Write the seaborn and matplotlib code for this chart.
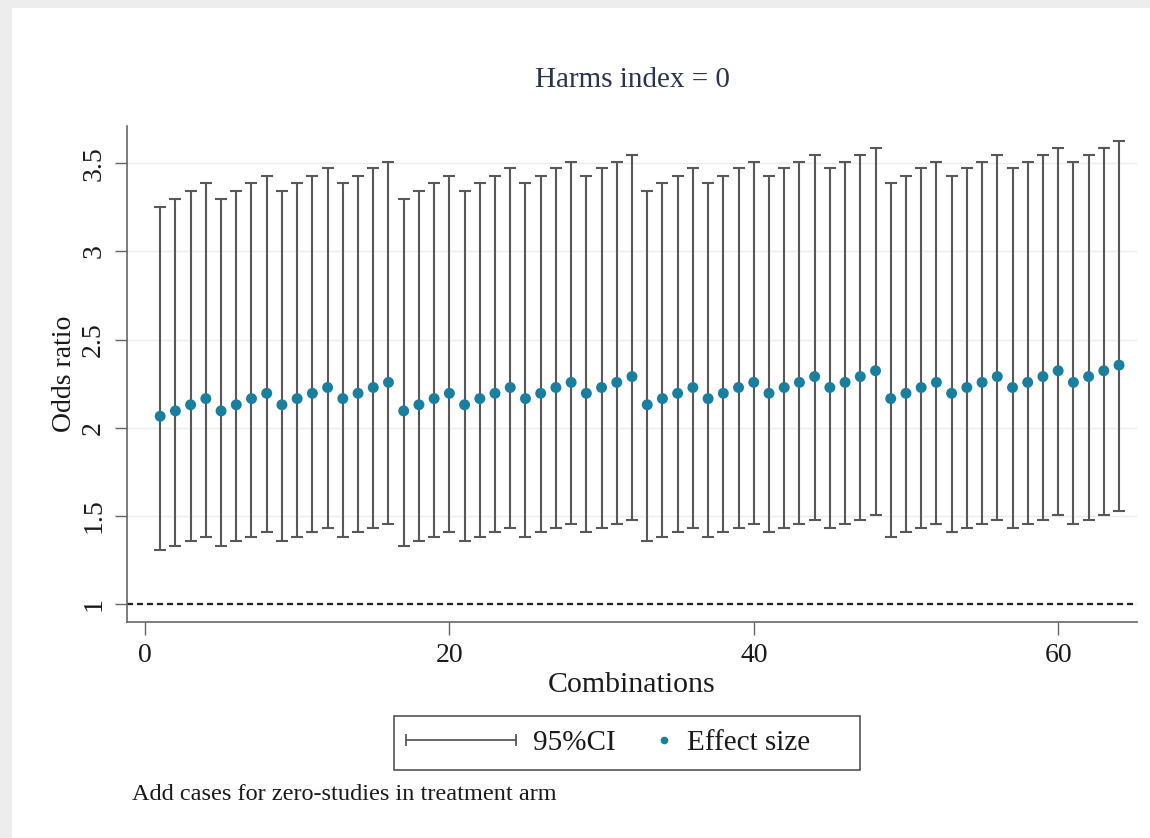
import numpy as np
import pandas as pd
import matplotlib
matplotlib.use("Agg")
import matplotlib.pyplot as plt
import seaborn as sns
from matplotlib.lines import Line2D
from matplotlib.patches import Rectangle
from matplotlib.legend_handler import HandlerLine2D

# ---- data -------------------------------------------------------------
combination = list(range(1, 65))

effect_size = [
    2.065, 2.095, 2.130, 2.165, 2.095, 2.130, 2.165, 2.195,
    2.130, 2.165, 2.195, 2.228, 2.165, 2.195, 2.228, 2.257,
    2.095, 2.130, 2.165, 2.195, 2.130, 2.165, 2.195, 2.228,
    2.165, 2.195, 2.228, 2.257, 2.195, 2.228, 2.257, 2.290,
    2.130, 2.165, 2.195, 2.228, 2.165, 2.195, 2.228, 2.257,
    2.195, 2.228, 2.257, 2.290, 2.228, 2.257, 2.290, 2.323,
    2.165, 2.195, 2.228, 2.257, 2.195, 2.228, 2.257, 2.290,
    2.228, 2.257, 2.290, 2.323, 2.257, 2.290, 2.323, 2.355,
]

ci_lower = [
    1.306, 1.330, 1.358, 1.380, 1.330, 1.358, 1.380, 1.406,
    1.358, 1.380, 1.406, 1.431, 1.380, 1.406, 1.431, 1.456,
    1.330, 1.358, 1.380, 1.406, 1.358, 1.380, 1.406, 1.431,
    1.380, 1.406, 1.431, 1.456, 1.406, 1.431, 1.456, 1.478,
    1.358, 1.380, 1.406, 1.431, 1.380, 1.406, 1.431, 1.456,
    1.406, 1.431, 1.456, 1.478, 1.431, 1.456, 1.478, 1.505,
    1.380, 1.406, 1.431, 1.456, 1.406, 1.431, 1.456, 1.478,
    1.431, 1.456, 1.478, 1.505, 1.456, 1.478, 1.505, 1.526,
]

ci_upper = [
    3.253, 3.298, 3.342, 3.386, 3.298, 3.342, 3.386, 3.428,
    3.342, 3.386, 3.428, 3.470, 3.386, 3.428, 3.470, 3.507,
    3.298, 3.342, 3.386, 3.428, 3.342, 3.386, 3.428, 3.470,
    3.386, 3.428, 3.470, 3.507, 3.428, 3.470, 3.507, 3.547,
    3.342, 3.386, 3.428, 3.470, 3.386, 3.428, 3.470, 3.507,
    3.428, 3.470, 3.507, 3.547, 3.470, 3.507, 3.547, 3.585,
    3.386, 3.428, 3.470, 3.507, 3.428, 3.470, 3.507, 3.547,
    3.470, 3.507, 3.547, 3.585, 3.507, 3.547, 3.585, 3.627,
]

reference_or = 1.0
x_ticks = [0, 20, 40, 60]
y_ticks = [1, 1.5, 2, 2.5, 3, 3.5]
y_tick_labels = ["1", "1.5", "2", "2.5", "3", "3.5"]

df = pd.DataFrame({
    "combination": combination,
    "effect": effect_size,
    "lower": ci_lower,
    "upper": ci_upper,
})

# ---- style ------------------------------------------------------------
sns.set_theme(style="white")
plt.rcParams["font.family"] = ["Liberation Serif", "DejaVu Serif"]

CI_COLOR = "#585858"
DOT_COLOR = "#1a7f9f"
AXIS_COLOR = "#666666"
TEXT_COLOR = "#1a1a1a"

W, H = 1150, 838
fig = plt.figure(figsize=(W / 100, H / 100), dpi=100, facecolor="#ededed")
fig.patches.append(Rectangle((12 / W, 0), 1 - 12 / W, 1 - 8 / H,
                             transform=fig.transFigure, facecolor="white",
                             edgecolor="none", zorder=-1))

ax = fig.add_axes([127 / W, 1 - 622 / H, (1137 - 127) / W, (622 - 126) / H])
ax.set_facecolor("white")

# confidence intervals
ax.errorbar(df["combination"], df["effect"],
            yerr=[df["effect"] - df["lower"], df["upper"] - df["effect"]],
            fmt="none", ecolor=CI_COLOR, elinewidth=1.5, capsize=4.5,
            capthick=1.5, zorder=2)

# point estimates
sns.scatterplot(data=df, x="combination", y="effect", color=DOT_COLOR,
                s=62, edgecolor="none", linewidth=0, ax=ax, zorder=3,
                legend=False)

# null line
ax.axhline(reference_or, color="#222222", lw=1.6, ls=(0, (2.7, 1.8)), zorder=1)

ax.set_xlim(-1.18, 65.18)
ax.set_ylim(0.898, 3.711)
ax.set_xticks(x_ticks)
ax.set_xticklabels([str(t) for t in x_ticks])
ax.set_yticks(y_ticks)
ax.set_yticklabels(y_tick_labels, rotation=90, va="center")

ax.yaxis.grid(True, color="#ececec", lw=1.0)
ax.xaxis.grid(False)
ax.set_axisbelow(True)

sns.despine(ax=ax)
for side in ("left", "bottom"):
    ax.spines[side].set_color(AXIS_COLOR)
    ax.spines[side].set_linewidth(1.2)

ax.tick_params(axis="both", which="major", bottom=True, left=True,
               direction="out", length=9, width=1.0, color=AXIS_COLOR,
               labelsize=20, labelcolor=TEXT_COLOR, pad=6)

ax.set_xlabel("Combinations", fontsize=21.5, color=TEXT_COLOR)
ax.xaxis.set_label_coords(0.5, -0.1008)
ax.set_ylabel("Odds ratio", fontsize=20, color=TEXT_COLOR)
ax.yaxis.set_label_coords(-0.0495, 0.5)

ax.text(0.5, 1.0927, "Harms index = 0", transform=ax.transAxes,
        ha="center", va="center", fontsize=21, color="#27354f")


# ---- legend -----------------------------------------------------------
class SizedHandler(HandlerLine2D):
    """Line2D legend handler with its own handle-box width (in em)."""

    def __init__(self, width_em, **kw):
        super().__init__(**kw)
        self.width_em = width_em

    def legend_artist(self, legend, orig_handle, fontsize, handlebox):
        handlebox.width = self.width_em * fontsize
        return super().legend_artist(legend, orig_handle, fontsize, handlebox)


LEG_FS = 21
fs_px = LEG_FS * 100 / 72
ci_handle = Line2D([], [], color=CI_COLOR, lw=1.3, marker="|",
                   markersize=9, markeredgewidth=1.3)
dot_handle = Line2D([], [], ls="none", marker="o", color=DOT_COLOR,
                    markersize=5.5, markeredgewidth=0)

fig.patches.append(Rectangle((394 / W, 1 - 770 / H), (860 - 394) / W,
                             (770 - 716) / H, transform=fig.transFigure,
                             facecolor="white", edgecolor="#555555",
                             lw=1.2, zorder=1))

fig.legend([ci_handle, dot_handle], ["95%CI", "Effect size"],
           handler_map={
               ci_handle: SizedHandler(110 / fs_px, numpoints=2, marker_pad=0),
               dot_handle: SizedHandler(12 / fs_px, numpoints=1),
           },
           loc="center left", bbox_to_anchor=(406 / W, 1 - 743 / H),
           ncol=2, frameon=False, borderpad=0, borderaxespad=0,
           handletextpad=17 / fs_px, columnspacing=42 / fs_px,
           fontsize=LEG_FS, labelcolor=TEXT_COLOR).set_zorder(5)

fig.text(132 / W, 1 - 800 / H, "Add cases for zero-studies in treatment arm",
         fontsize=17.5, ha="left", va="baseline", color=TEXT_COLOR)

fig.savefig("out.png", dpi=100, facecolor=fig.get_facecolor())
